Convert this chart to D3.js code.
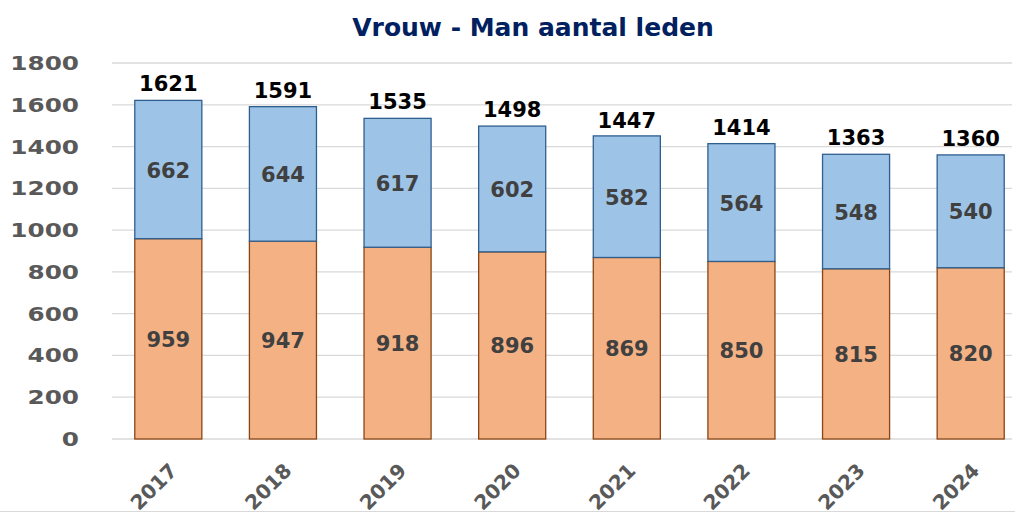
<!DOCTYPE html>
<html>
<head>
<meta charset="utf-8">
<script src="https://cdn.jsdelivr.net/npm/d3@7"></script>
<style>
  html, body { margin: 0; padding: 0; background: #fff; }
  svg { display: block; font-family: "DejaVu Sans", Verdana, sans-serif; font-weight: bold; }
</style>
</head>
<body>
<div id="chart"></div>
<script>
var years = ["2017", "2018", "2019", "2020", "2021", "2022", "2023", "2024"];
var man = [959, 947, 918, 896, 869, 850, 815, 820];
var vrouw = [662, 644, 617, 602, 582, 564, 548, 540];
var totals = [1621, 1591, 1535, 1498, 1447, 1414, 1363, 1360];
var yTicks = [0, 200, 400, 600, 800, 1000, 1200, 1400, 1600, 1800];

var width = 1015, height = 512;
var colors = {man: '#f4b183', manStroke: '#8b4513',
              vrouw: '#9dc3e6', vrouwStroke: '#2f5f8f'};

var svg = d3.select("#chart").append("svg")
    .attr("width", width)
    .attr("height", height);

var x = d3.scaleBand()
    .domain(years)
    .range([111, 1028])
    .paddingInner(0.415)
    .paddingOuter(0.2075);

var y = d3.scaleLinear()
    .domain([0, 1800])
    .range([439, 63]);

// title
svg.append("text")
  .attr("x", 533)
  .attr("y", 36)
  .attr("text-anchor", "middle")
  .style("font-size", "25px")
  .style("fill", "#002060")
  .text("Vrouw - Man aantal leden");

// gridlines
svg.append("g")
  .selectAll("line")
  .data(yTicks)
  .enter().append("line")
  .attr("x1", 112)
  .attr("x2", 1012)
  .attr("y1", d => y(d))
  .attr("y2", d => y(d))
  .style("stroke", "#d9d9d9")
  .style("stroke-width", 1.3);

// faint frame line at the bottom edge
svg.append("line")
  .attr("x1", 0).attr("x2", width)
  .attr("y1", height - 0.5).attr("y2", height - 0.5)
  .style("stroke", "#d9d9d9");

// y tick labels (horizontally stretched like the original)
svg.append("g")
  .selectAll("text")
  .data(yTicks)
  .enter().append("text")
  .attr("transform", d => "translate(79," + (y(d) + 7) + ") scale(1.3,1)")
  .attr("text-anchor", "end")
  .style("font-size", "19px")
  .style("fill", "#595959")
  .text(d => d);

var rows = years.map((yr, i) => ({year: yr, man: man[i], vrouw: vrouw[i], total: totals[i]}));

// man (bottom)
svg.append("g")
  .selectAll("rect")
  .data(rows)
  .enter().append("rect")
  .attr("x", d => x(d.year))
  .attr("width", x.bandwidth())
  .attr("y", d => y(d.man))
  .attr("height", d => y(0) - y(d.man))
  .style("fill", colors.man)
  .style("stroke", colors.manStroke)
  .style("stroke-width", 1.3);

// vrouw (top)
svg.append("g")
  .selectAll("rect")
  .data(rows)
  .enter().append("rect")
  .attr("x", d => x(d.year))
  .attr("width", x.bandwidth())
  .attr("y", d => y(d.man + d.vrouw))
  .attr("height", d => y(d.man) - y(d.man + d.vrouw))
  .style("fill", colors.vrouw)
  .style("stroke", colors.vrouwStroke)
  .style("stroke-width", 1.3);

// segment labels
var cx = d => x(d.year) + x.bandwidth() / 2;
svg.append("g")
  .selectAll("text")
  .data(rows)
  .enter().append("text")
  .attr("x", cx)
  .attr("y", d => (y(0) + y(d.man)) / 2 + 8)
  .attr("text-anchor", "middle")
  .style("font-size", "21px")
  .style("fill", "#404040")
  .text(d => d.man);

svg.append("g")
  .selectAll("text")
  .data(rows)
  .enter().append("text")
  .attr("x", cx)
  .attr("y", d => (y(d.man) + y(d.man + d.vrouw)) / 2 + 8)
  .attr("text-anchor", "middle")
  .style("font-size", "21px")
  .style("fill", "#404040")
  .text(d => d.vrouw);

// totals
svg.append("g")
  .selectAll("text")
  .data(rows)
  .enter().append("text")
  .attr("x", cx)
  .attr("y", d => y(d.total) - 9)
  .attr("text-anchor", "middle")
  .style("font-size", "21px")
  .style("fill", "#000")
  .text(d => d.total);

// x labels, rotated
svg.append("g")
  .selectAll("text")
  .data(years)
  .enter().append("text")
  .attr("transform", d => "translate(" + (x(d) + x.bandwidth() / 2 + 10) + ",472) rotate(-45)")
  .attr("text-anchor", "end")
  .style("font-size", "20px")
  .style("fill", "#595959")
  .text(d => d);
</script>
</body>
</html>
